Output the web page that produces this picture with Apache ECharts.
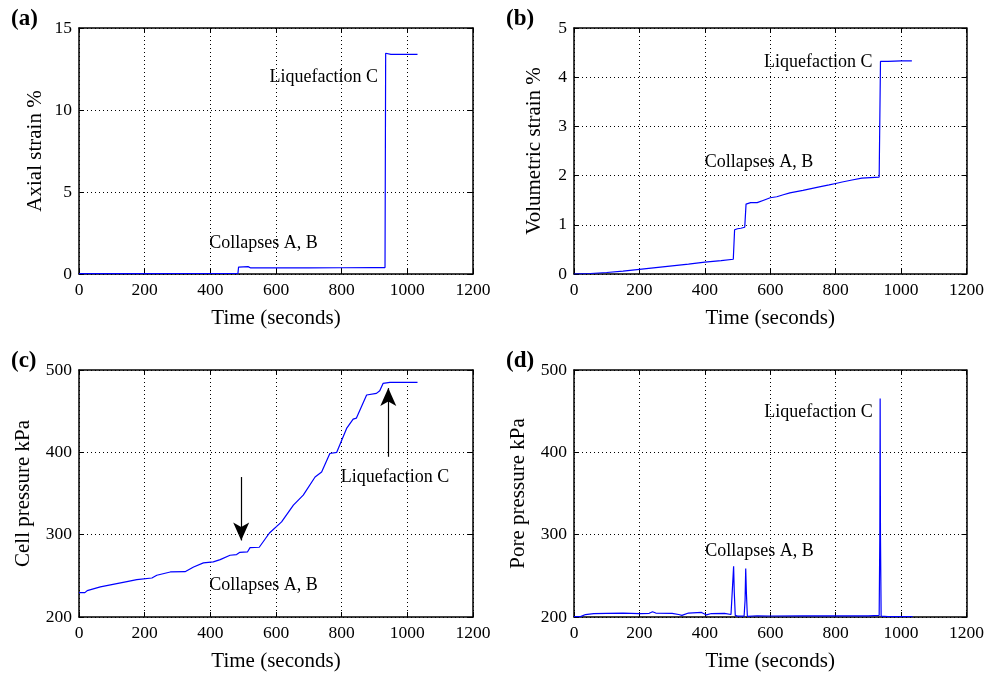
<!DOCTYPE html>
<html>
<head>
<meta charset="utf-8">
<script src="https://cdn.jsdelivr.net/npm/echarts@6/dist/echarts.min.js"></script>
<style>html,body{margin:0;padding:0;background:#fff}#c{width:987px;height:673px}</style>
</head>
<body>
<div id="c"></div>
<script>
// ---- data ----
var xTicks = [0, 200, 400, 600, 800, 1000, 1200];

var timeA = [0, 100, 200, 300, 400, 484, 486, 490, 515, 521, 523, 600, 700, 800, 900, 932, 934, 937, 950, 1000, 1031];
var axialStrain = [0.02, 0.02, 0.02, 0.03, 0.03, 0.03, 0.42, 0.45, 0.45, 0.44, 0.37, 0.37, 0.37, 0.38, 0.39, 0.39, 13.46, 13.40, 13.39, 13.39, 13.39];

var timeB = [0, 50, 100, 150, 200, 250, 300, 350, 400, 450, 487, 491, 500, 510, 522, 526, 540, 560, 580, 600, 620, 640, 660, 700, 750, 780, 800, 820, 850, 880, 933, 937, 960, 1000, 1033];
var volStrain = [0, 0.01, 0.03, 0.06, 0.095, 0.13, 0.165, 0.2, 0.24, 0.27, 0.30, 0.90, 0.92, 0.93, 0.95, 1.42, 1.45, 1.45, 1.50, 1.55, 1.57, 1.61, 1.65, 1.70, 1.77, 1.81, 1.84, 1.87, 1.91, 1.95, 1.97, 4.32, 4.32, 4.33, 4.33];

var timeC = [0, 18, 25, 65, 115, 146, 176, 222, 237, 278, 323, 349, 379, 409, 430, 460, 480, 490, 513, 521, 549, 580, 617, 653, 683, 719, 739, 764, 785, 815, 835, 845, 876, 906, 916, 926, 947, 1031];
var cellPressure = [229.6, 229.6, 232, 236.5, 240.5, 243, 245.4, 247.4, 250.7, 254.7, 255, 260.8, 265.7, 266.9, 269.7, 275, 275.8, 278.6, 279, 284.3, 284.7, 302, 315.5, 335.8, 348, 370, 376, 398.6, 400, 429, 440.4, 441.6, 469.6, 471.6, 474.8, 483.7, 485, 485];

var timeD = [0, 20, 35, 60, 100, 150, 200, 230, 240, 250, 300, 320, 330, 350, 390, 405, 420, 460, 480, 486, 488, 490, 493, 500, 520, 523, 525, 527, 530, 560, 600, 700, 800, 900, 933, 935, 936, 937, 939, 960, 1035];
var porePressure = [200.5, 200.5, 203, 204, 204.3, 204.7, 204.2, 204.5, 206.3, 204.8, 204.5, 203, 202, 204.8, 205.5, 202.5, 204.2, 204.5, 203, 204, 261.5, 230, 202, 201, 201, 220, 258.8, 230, 200.8, 201.5, 201.2, 201.3, 201.5, 201.3, 202, 300, 465.5, 300, 201, 200.5, 200.5];

var panelLabels = ['(a)', '(b)', '(c)', '(d)'];
var yNames = ['Axial strain %', 'Volumetric strain %', 'Cell pressure kPa', 'Pore pressure kPa'];
var yRanges = [[0, 15, 5], [0, 5, 1], [200, 500, 100], [200, 500, 100]];
var xName = 'Time (seconds)';
var notes = [
  [{t: 397, v: 1.9, text: 'Collapses A, B'}, {t: 580, v: 12.0, text: 'Liquefaction C'}],
  [{t: 400, v: 2.28, text: 'Collapses A, B'}, {t: 581, v: 4.30, text: 'Liquefaction C'}],
  [{t: 397, v: 239, text: 'Collapses A, B'}, {t: 797, v: 370, text: 'Liquefaction C'}],
  [{t: 401, v: 280, text: 'Collapses A, B'}, {t: 582, v: 449, text: 'Liquefaction C'}]
];
// arrows in panel (c): [t, from, to]
var arrowsC = [[494, 370, 293], [942, 394.6, 478]];

// ---- layout ----
var FONT = 'Liberation Serif';
var grids = [
  {left: 79, top: 28, width: 394, height: 246},
  {left: 574, top: 28, width: 395, height: 246},
  {left: 79, top: 370, width: 394, height: 247},
  {left: 574, top: 370, width: 395, height: 247}
];
var nameGaps = [33, 29, 45, 45];
var labelPos = [[11, 8], [506, 8], [11, 350], [506, 350]];

var pairs = function (ts, vs) { return ts.map(function (t, i) { return [t, vs[i]]; }); };
var allData = [pairs(timeA, axialStrain), pairs(timeB, volStrain), pairs(timeC, cellPressure), pairs(timeD, porePressure)];
var plain = function (v) { return String(v); };

var xAxes = [], yAxes = [], series = [];
grids.forEach(function (g, i) {
  var base = {
    gridIndex: i,
    axisLine: {show: true, onZero: false, lineStyle: {color: '#000', width: 1.5}},
    axisTick: {show: true, inside: true, length: 5, lineStyle: {color: '#000', width: 1}}
  };
  xAxes.push(Object.assign({}, base, {
    type: 'value', position: 'bottom', min: xTicks[0], max: xTicks[xTicks.length - 1], interval: 200,
    name: xName, nameLocation: 'middle', nameGap: 34,
    nameTextStyle: {fontFamily: FONT, fontSize: 21, color: '#000'},
    axisLabel: {fontFamily: FONT, fontSize: 17.5, color: '#000', margin: 7, formatter: plain},
    splitLine: {show: true, lineStyle: {color: '#000', type: [1, 3], width: 1}}
  }));
  xAxes.push(Object.assign({}, base, {
    type: 'value', position: 'top', min: xTicks[0], max: xTicks[xTicks.length - 1], interval: 200,
    axisLabel: {show: false}, splitLine: {show: false}
  }));
  var r = yRanges[i];
  yAxes.push(Object.assign({}, base, {
    type: 'value', position: 'left', min: r[0], max: r[1], interval: r[2],
    name: yNames[i], nameLocation: 'middle', nameGap: nameGaps[i],
    nameTextStyle: {fontFamily: FONT, fontSize: 21, color: '#000'},
    axisLabel: {fontFamily: FONT, fontSize: 17.5, color: '#000', margin: 7, formatter: plain},
    splitLine: {show: true, lineStyle: {color: '#000', type: [1, 3], width: 1}}
  }));
  yAxes.push(Object.assign({}, base, {
    type: 'value', position: 'right', min: r[0], max: r[1], interval: r[2],
    axisLabel: {show: false}, splitLine: {show: false}
  }));
  var s = {
    type: 'line', xAxisIndex: 2 * i, yAxisIndex: 2 * i, data: allData[i],
    showSymbol: false, symbol: 'none', animation: false,
    lineStyle: {color: '#0000ff', width: 1.2},
    markPoint: {
      symbol: 'circle', symbolSize: 0, animation: false,
      label: {show: true, position: 'right', distance: 0, fontFamily: FONT, fontSize: 18, color: '#000',
        formatter: function (p) { return p.name; }},
      data: notes[i].map(function (n) { return {name: n.text, coord: [n.t, n.v]}; })
    }
  };
  if (i === 2) {
    s.markLine = {
      silent: true, animation: false, symbol: ['none', 'arrow'], symbolSize: [12, 18],
      label: {show: false},
      lineStyle: {color: '#000', width: 1.2, type: 'solid'},
      data: arrowsC.map(function (a) { return [{coord: [a[0], a[1]]}, {coord: [a[0], a[2]]}]; })
    };
  }
  series.push(s);
});

var chart = echarts.init(document.getElementById('c'), null, {renderer: 'canvas'});
chart.setOption({
  animation: false,
  backgroundColor: '#fff',
  grid: grids.map(function (g) { return Object.assign({containLabel: false}, g); }),
  xAxis: xAxes,
  yAxis: yAxes,
  series: series,
  graphic: panelLabels.map(function (t, i) {
    return {type: 'text', left: labelPos[i][0], top: labelPos[i][1],
      style: {text: t, fontFamily: FONT, fontWeight: 'bold', fontSize: 23, fill: '#000'}};
  })
});
</script>
</body>
</html>
